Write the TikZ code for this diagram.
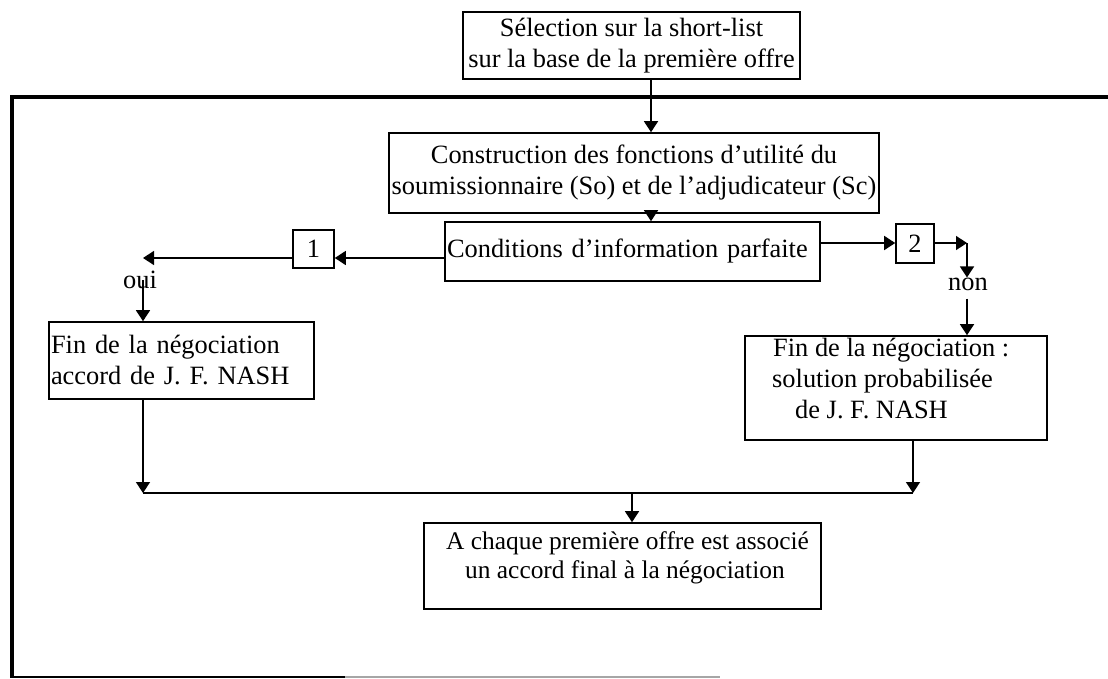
\documentclass[tikz,border=0pt]{standalone}
\usepackage{fontspec}
\setmainfont{Liberation Serif}
\usetikzlibrary{arrows.meta}
\begin{document}
\begin{tikzpicture}[x=1pt,y=-1pt,
  every node/.style={font=\fontsize{26.4}{31}\selectfont, inner sep=0pt},
  box/.style={draw, line width=1.6pt},
  conn/.style={line width=1.5pt, -{Triangle[length=11pt,width=14pt]}},
  wire/.style={line width=1.5pt},
  frame/.style={line width=3.2pt}]
\useasboundingbox (0,0) rectangle (1108,679);

% outer frame (open on the right)
\draw[frame] (1108,97) -- (12,97) -- (12,677);
\draw[line width=1.6pt] (10.4,677) -- (345,677);
\draw[line width=1.2pt, black!35] (345,677) -- (720,677);

% boxes
\node[box, minimum width=337pt, minimum height=67pt, align=center] (sel) at (631.5,45.5)
  {Sélection sur la short-list\\sur la base de la première offre};
\node[box, minimum width=490pt, minimum height=80pt, align=center] (cons) at (634,173)
  {Construction des fonctions d’utilité du\\soumissionnaire (So) et de l’adjudicateur (Sc)};
\node[box, minimum width=375pt, minimum height=59pt, text width=371pt, align=left] (cond) at (632.5,251.5)
  {Conditions d’information parfaite};
\node[box, minimum width=41pt, minimum height=38pt] (b1) at (313.5,249) {1};
\node[box, minimum width=38pt, minimum height=39pt] (b2) at (915,243.5) {2};
\node[box, minimum width=265pt, minimum height=77pt, text width=261pt, align=left] (fin1) at (181.5,360.5)
  {Fin de la négociation\\accord de J. F. NASH};
\node[box, minimum width=302pt, minimum height=104pt] (fin2) at (896,388) {};
\node[anchor=west, align=left] (fin2txt) at (772,379)
  {\hspace*{1pt}Fin de la négociation :\\solution probabilisée\\\hspace*{23pt}de J. F. NASH};
\node[box, minimum width=397pt, minimum height=86pt] (bot) at (622.5,566) {};
\node[anchor=west, align=left, font=\fontsize{25.4}{29}\selectfont] (bottxt) at (446,557.5)
  {A chaque première offre est associé\\\hspace*{19pt}un accord final à la négociation};

% branch labels
\node (oui) at (140,280) {oui};
\node (non) at (968,284) {non};

% main column
\coordinate (ax) at (651,0);
\draw[conn] (sel.south -| ax) -- (cons.north -| ax);
\draw[conn] (cons.south -| ax) -- (cond.north -| ax);

% left branch
\coordinate (ly) at (0,258);
\coordinate (lt) at (143,258);
\draw[conn] (cond.west |- ly) -- (b1.east |- ly);
\draw[conn] (b1.west |- lt) -- (lt);
\draw[conn] (oui.center -| lt) -- (fin1.north -| lt);

% right branch
\coordinate (ry) at (0,243);
\coordinate (rc) at (967,243);
\draw[conn] (cond.east |- ry) -- (b2.west |- ry);
\draw[conn] (b2.east |- ry) -- (rc);
\draw[conn] (rc) -- (rc |- non.north);
\draw[conn, shorten <=8pt] (non.south -| rc) -- (fin2.north -| rc);

% merge towards the final box
\coordinate (hy) at (0,493);
\coordinate (rt) at (913,493);
\coordinate (bx) at (632,493);
\draw[conn] (fin1.south -| lt) -- (lt |- hy);
\draw[wire] (lt |- hy) -- (rt);
\draw[conn] (fin2.south -| rt) -- (rt);
\draw[conn] (bx) -- (bot.north -| bx);
\end{tikzpicture}
\end{document}
